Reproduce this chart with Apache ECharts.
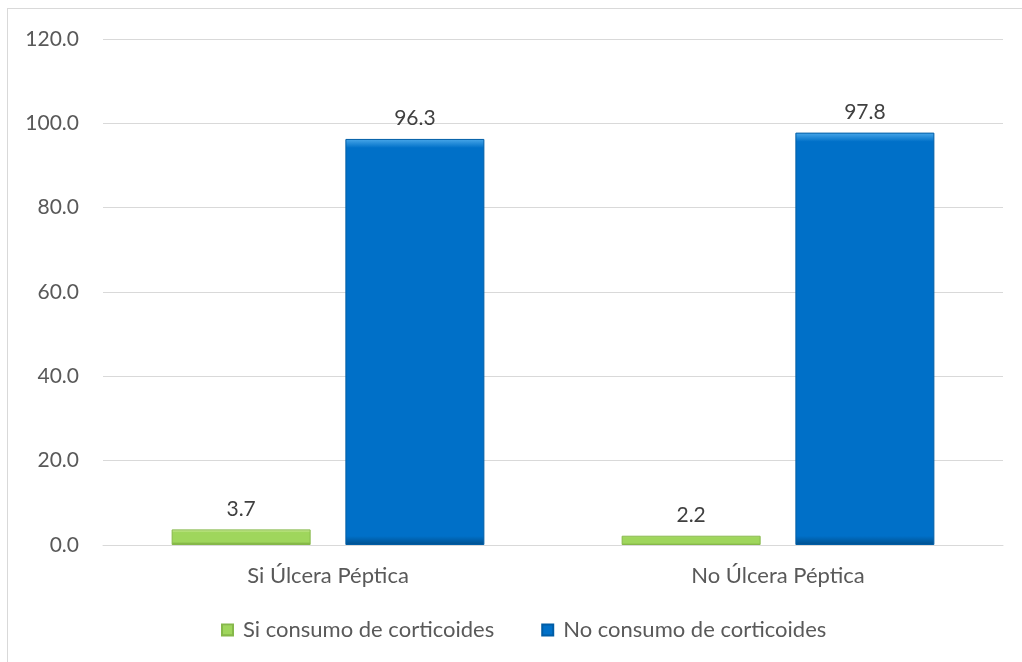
<!DOCTYPE html>
<html>
<head>
<meta charset="utf-8">
<script src="https://cdn.jsdelivr.net/npm/echarts@6/dist/echarts.min.js"></script>
<style>
  html, body { margin: 0; padding: 0; background: #fff; }
  #chart { width: 1022px; height: 662px; }
  #frame { position: absolute; left: 7px; top: 8px; width: 1030px; height: 680px; border: 1px solid #d9d9d9; pointer-events: none; }
</style>
</head>
<body>
<div id="chart"></div>
<div id="frame"></div>
<script>
const categories = ['Si Úlcera Péptica', 'No Úlcera Péptica'];
const siConsumo = [3.7, 2.2];
const noConsumo = [96.3, 97.8];
const seriesNames = ['Si consumo de corticoides', 'No consumo de corticoides'];

const FONT = 'Lato';
const chart = echarts.init(document.getElementById('chart'));

function bevel(light, mid, dark, edge) {
    return new echarts.graphic.LinearGradient(0, 0, 0, 1, [
        { offset: 0, color: light },
        { offset: edge, color: mid },
        { offset: 1 - edge, color: mid },
        { offset: 1, color: dark }
    ]);
}

const labelStyle = {
    show: true, position: 'top', distance: 10,
    color: '#404040', fontSize: 21, fontFamily: FONT,
    formatter: function (p) { return p.value.toFixed(1); }
};

chart.setOption({
    animation: false,
    grid: { left: 103, right: 19, top: 39, bottom: 117 },
    legend: {
        bottom: 16, left: 216, itemWidth: 11, itemHeight: 11, itemGap: 47,
        icon: 'rect',
        textStyle: { color: '#595959', fontSize: 22, fontFamily: FONT, padding: [0, 0, 0, 5] },
        data: seriesNames
    },
    xAxis: {
        type: 'category', data: categories,
        axisLine: { lineStyle: { color: '#d9d9d9' } },
        axisTick: { show: false },
        axisLabel: { color: '#595959', fontSize: 22, fontFamily: FONT, margin: 20 }
    },
    yAxis: {
        type: 'value', min: 0, max: 120, interval: 20,
        axisLine: { show: false }, axisTick: { show: false },
        splitLine: { lineStyle: { color: '#d9d9d9' } },
        axisLabel: {
            color: '#595959', fontSize: 21, fontFamily: FONT, margin: 24,
            formatter: function (v) { return v.toFixed(1); }
        }
    },
    series: [
        {
            name: seriesNames[0], type: 'bar', data: siConsumo,
            barWidth: 139, barGap: '25%',
            itemStyle: { color: bevel('#d8f0a8', '#9fd65c', '#6e9e34', 0.2), borderColor: '#86b84a', borderWidth: 1 },
            label: labelStyle
        },
        {
            name: seriesNames[1], type: 'bar', data: noConsumo,
            barWidth: 139,
            itemStyle: { color: bevel('#4aa8ea', '#0070c8', '#004f8c', 0.022), borderColor: '#005da6', borderWidth: 1 },
            label: labelStyle
        }
    ]
});
</script>
</body>
</html>
